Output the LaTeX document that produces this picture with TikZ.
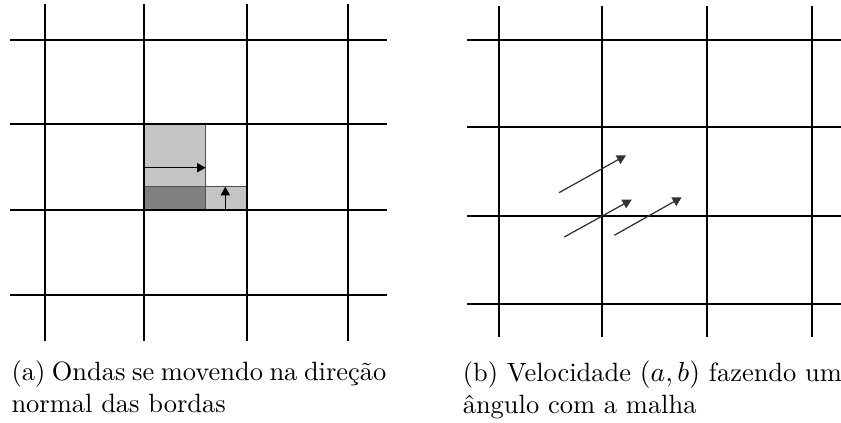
\documentclass[tikz,border=0pt]{standalone}
\usepackage{fontspec}
\usepackage{tikz}
\usetikzlibrary{arrows.meta}
\definecolor{cellgray}{RGB}{196,196,196}
\definecolor{darkcell}{RGB}{128,128,128}
\definecolor{edgegray}{RGB}{80,80,80}
\tikzset{
  gridline/.style={line width=0.75pt, color=black},
  cellbox/.style={draw=edgegray, line width=0.5pt},
  flux/.style={-{Triangle[length=3.4pt,width=3.6pt]}, line width=0.5pt, color=black},
  skew/.style={-{Triangle[length=3.6pt,width=3.8pt]}, line width=0.5pt, color=black!80},
  capt/.style={anchor=north west, inner sep=0pt, align=left,
    font=\fontsize{10.5}{12.7}\selectfont}
}

\begin{document}
\begin{tikzpicture}[x=0.3968pt, y=-0.3968pt]
  \useasboundingbox (0,0) rectangle (841,423);

  % Left mesh: shaded cells first
  \filldraw[cellbox, fill=cellgray] (144.3,124.3) rectangle (205.7,186.7);
  \filldraw[cellbox, fill=darkcell] (144.3,186.7) rectangle (205.7,209.7);
  \filldraw[cellbox, fill=cellgray] (205.7,186.7) rectangle (246.7,209.7);

  % Left mesh: lines
  \foreach \x in {45,144.3,246.7,347.7}
    \draw[gridline] (\x,4.3) -- (\x,341);
  \foreach \y in {40.3,124.3,209.7,295}
    \draw[gridline] (10,\y) -- (386.7,\y);

  % Normal waves
  \coordinate (hl) at (144.3,167.7);
  \coordinate (hr) at (205.7,167.7);
  \coordinate (vb) at (225.3,209.7);
  \coordinate (vt) at (225.3,186.7);
  \draw[flux] (hl) -- (hr);
  \draw[flux] (vb) -- (vt);

  % Right mesh
  \foreach \x in {498.7,601.7,707,811.7}
    \draw[gridline] (\x,5.7) -- (\x,336.7);
  \foreach \y in {40.3,127,215.7,304}
    \draw[gridline] (467.3,\y) -- (841,\y);

  % Oblique waves
  \coordinate (a1) at (559,192.7);
  \coordinate (b1) at (626,155.3);
  \coordinate (a2) at (564.3,237);
  \coordinate (b2) at (631.7,199.7);
  \coordinate (a3) at (614.3,235.3);
  \coordinate (b3) at (681.7,197.3);
  \draw[skew] (a1) -- (b1);
  \draw[skew] (a2) -- (b2);
  \draw[skew] (a3) -- (b3);

  % Captions
  \node[capt] (capa) at (11,360.2) {\spaceskip=2.6pt\relax (a) Ondas se movendo na direção\\normal das bordas};
  \node[capt] (capb) at (462.3,360.2) {(b) Velocidade $(a,b)$ fazendo um\\ângulo com a malha};
\end{tikzpicture}
\end{document}
